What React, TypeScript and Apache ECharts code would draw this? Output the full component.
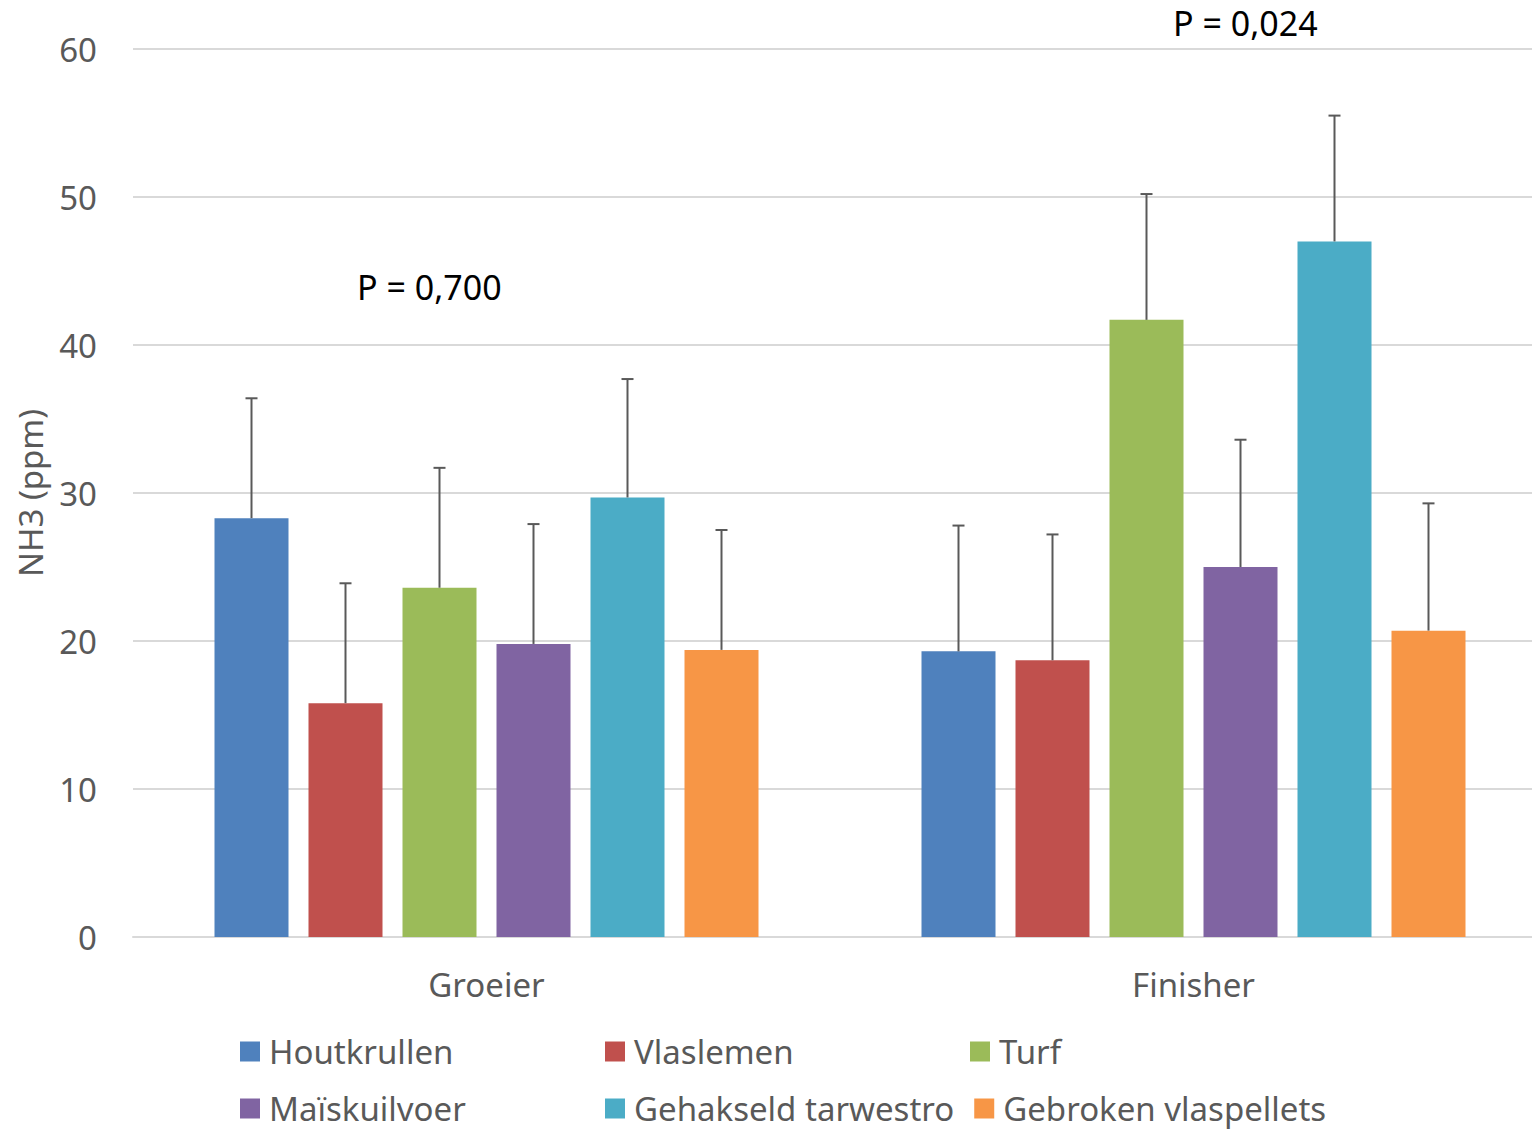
import React, { useEffect, useRef } from "react";
import * as echarts from "echarts";

const categories = ["Groeier", "Finisher"];
const seriesNames = [
  "Houtkrullen",
  "Vlaslemen",
  "Turf",
  "Maïskuilvoer",
  "Gehakseld tarwestro",
  "Gebroken vlaspellets",
];
const colors = ["#4F81BD", "#C0504D", "#9BBB59", "#8064A2", "#4BACC6", "#F79646"];
// mean values [Groeier, Finisher]
const means = [
  [28.3, 19.3],
  [15.8, 18.7],
  [23.6, 41.7],
  [19.8, 25.0],
  [29.7, 47.0],
  [19.4, 20.7],
];
// upper end of error bars [Groeier, Finisher]
const errTops = [
  [36.4, 27.8],
  [23.9, 27.2],
  [31.7, 50.2],
  [27.9, 33.6],
  [37.7, 55.5],
  [27.5, 29.3],
];
const yTicks = { min: 0, max: 60, interval: 10 };
const yAxisName = "NH3 (ppm)";
const annotations = [
  { text: "P = 0,700", x: 357, y: 288 },
  { text: "P = 0,024", x: 1173, y: 24 },
];

const FONT = "'Noto Sans', 'Open Sans', sans-serif";
const TEXT_COLOR = "#595959";
const BAR_W = 74;
const BAR_GAP = 20;
const FS = 33;

export default function App() {
  const ref = useRef<HTMLDivElement>(null);
  useEffect(() => {
    if (!ref.current) return;
    const chart = echarts.init(ref.current, null, { renderer: "svg" });
    const n = seriesNames.length;
    const groupW = n * BAR_W + (n - 1) * BAR_GAP;

    const barSeries = seriesNames.map((name, i) => ({
      name,
      type: "bar",
      data: means[i],
      barWidth: BAR_W,
      barGap: (BAR_GAP / BAR_W) * 100 + "%",
      itemStyle: { color: colors[i] },
      z: 2,
    }));

    const errSeries = seriesNames.map((name, i) => ({
      name: name + "_err",
      type: "custom",
      z: 3,
      silent: true,
      data: categories.map((_, c) => [c, means[i][c], errTops[i][c]]),
      encode: { x: 0, y: [1, 2] },
      renderItem: (params: any, api: any) => {
        const base = api.coord([api.value(0), api.value(1)]);
        const top = api.coord([api.value(0), api.value(2)]);
        const off = -groupW / 2 + i * (BAR_W + BAR_GAP) + BAR_W / 2;
        const x = base[0] + off;
        const style = { stroke: "#595959", lineWidth: 2 };
        return {
          type: "group",
          children: [
            { type: "line", shape: { x1: x, y1: base[1], x2: x, y2: top[1] }, style },
            { type: "line", shape: { x1: x - 6, y1: top[1], x2: x + 6, y2: top[1] }, style },
          ],
        };
      },
    }));

    const legendRow = (names: string[], top: number) => ({
      top,
      left: 235,
      orient: "horizontal",
      icon: "rect",
      itemWidth: 20,
      itemHeight: 20,
      itemGap: 20,
      data: names,
      formatter: (nm: string) => "{a|" + nm + "}",
      textStyle: {
        color: TEXT_COLOR,
        fontFamily: FONT,
        fontSize: FS,
        rich: {
          a: {
            width: 316,
            fontSize: FS,
            fontFamily: FONT,
            color: TEXT_COLOR,
            lineHeight: 36,
            padding: [0, 0, 0, 4],
          },
        },
      },
    });

    chart.setOption({
      animation: false,
      grid: { left: 133, right: 0, top: 49, bottom: 195 },
      legend: [legendRow(seriesNames.slice(0, 3), 1030), legendRow(seriesNames.slice(3), 1087)],
      xAxis: {
        type: "category",
        data: categories,
        axisLine: { lineStyle: { color: "#d9d9d9", width: 2 } },
        axisTick: { show: false },
        axisLabel: { color: TEXT_COLOR, fontFamily: FONT, fontSize: FS, margin: 31 },
      },
      yAxis: {
        type: "value",
        min: yTicks.min,
        max: yTicks.max,
        interval: yTicks.interval,
        name: yAxisName,
        nameLocation: "middle",
        nameGap: 86,
        nameTextStyle: { color: TEXT_COLOR, fontFamily: FONT, fontSize: FS },
        axisLine: { show: false },
        axisTick: { show: false },
        axisLabel: { color: TEXT_COLOR, fontFamily: FONT, fontSize: FS, margin: 36 },
        splitLine: { lineStyle: { color: "#d9d9d9", width: 2 } },
      },
      graphic: annotations.map((a) => ({
        type: "text",
        left: a.x,
        top: a.y - 18,
        style: { text: a.text, fill: "#000", font: `34px ${FONT}` },
      })),
      series: [...barSeries, ...errSeries],
    });
    return () => chart.dispose();
  }, []);
  return (
    <div style={{ position: "absolute", left: 0, top: 0, width: 1532, height: 1132, overflow: "hidden" }}>
      <div ref={ref} style={{ position: "absolute", left: 0, top: 0, width: 1547, height: 1132 }} />
    </div>
  );
}
